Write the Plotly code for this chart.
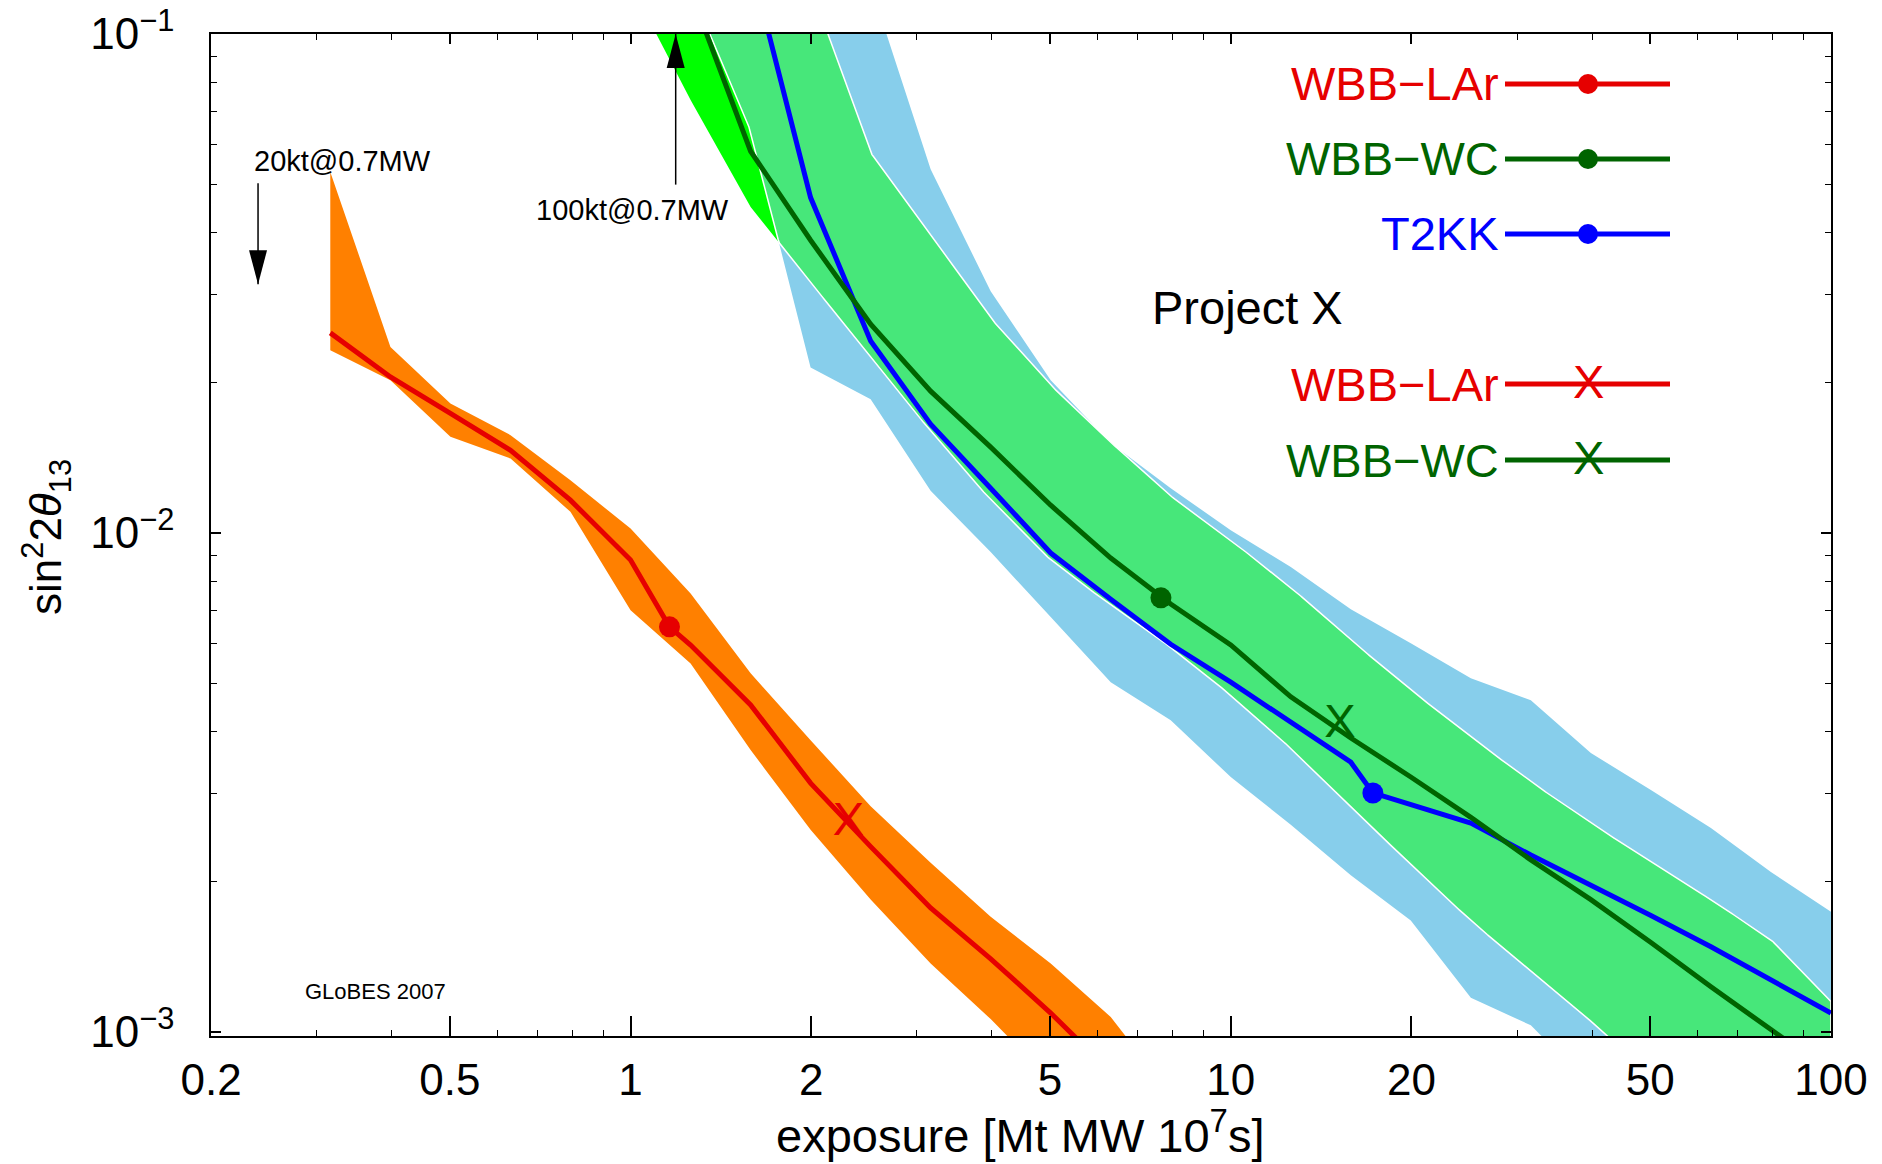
import numpy as np
import plotly.graph_objects as go

# ---------------- data ----------------
# WBB-LAr (red line + orange band)
LAR_X = [0.316, 0.398, 0.501, 0.631, 0.794, 1.0, 1.161, 1.259, 1.585, 1.995, 2.512, 3.162, 3.981, 5.012, 6.31]
LAR_Y = [0.02517, 0.02054, 0.01735, 0.01464, 0.01163, 0.00882, 0.00648, 0.00596, 0.00452, 0.00315,
         0.00235, 0.00177, 0.00140, 0.00109, 0.00083]
LAR_BAND_X = [0.316, 0.398, 0.501, 0.631, 0.794, 1.0, 1.259, 1.585, 1.995, 2.512, 3.162, 3.981, 5.012, 6.31, 7.943]
LAR_BAND_HI = [0.0529, 0.02359, 0.01817, 0.01570, 0.01275, 0.01020, 0.00756, 0.00523, 0.00384, 0.00283,
               0.00218, 0.00170, 0.00137, 0.00107, 0.00075]
LAR_BAND_LO = [0.02323, 0.02023, 0.01558, 0.01409, 0.01102, 0.00700, 0.00547, 0.00367, 0.00254, 0.00184,
               0.00137, 0.00106, 0.00080, 0.00062, 0.00048]

# T2KK (blue line + sky-blue band)
T2KK_X = [1.585, 1.995, 2.512, 3.162, 3.981, 5.012, 6.31, 7.943, 10.0, 12.59, 15.85, 17.25, 19.95, 25.12,
          31.62, 39.81, 50.12, 63.1, 79.43, 100.0]
T2KK_Y = [0.139, 0.0470, 0.02425, 0.01651, 0.01229, 0.00911, 0.00736, 0.00598, 0.00502, 0.00417, 0.00347,
          0.00301, 0.00285, 0.00262, 0.00226, 0.00197, 0.00171, 0.00148, 0.00127, 0.00109]
T2KK_BAND_X = [1.259, 1.585, 1.995, 2.512, 3.162, 3.981, 5.012, 6.31, 7.943, 10.0, 12.59, 15.85, 19.95,
               25.12, 31.62, 39.81, 50.12, 63.1, 79.43, 100.0]
T2KK_BAND_HI = [0.50, 0.35, 0.22, 0.125, 0.05356, 0.03050, 0.02023, 0.01513, 0.01229, 0.01012, 0.00854,
                0.00703, 0.00601, 0.00511, 0.00462, 0.00362, 0.00305, 0.00256, 0.00209, 0.00174]
T2KK_BAND_LO = [0.1235, 0.0639, 0.02146, 0.01853, 0.01214, 0.00915, 0.00678, 0.00502, 0.00421, 0.00324,
                0.00260, 0.00206, 0.00167, 0.00117, 0.00103, 0.00078, 0.00060, 0.00046, 0.00036, 0.00028]

# WBB-WC (dark-green line + green band)
WC_X = [1.259, 1.585, 1.995, 2.512, 3.162, 3.981, 5.012, 6.31, 7.943, 10.0, 12.59, 15.85, 19.95, 25.12,
        31.62, 39.81, 50.12, 63.1, 79.43, 100.0]
WC_Y = [0.1218, 0.0582, 0.0386, 0.02619, 0.01923, 0.01485, 0.01136, 0.00890, 0.00720, 0.00596, 0.00469,
        0.00388, 0.00324, 0.00269, 0.00221, 0.00184, 0.00151, 0.00123, 0.00101, 0.00083]
WC_BAND_X = [1.0, 1.259, 1.585, 1.995, 2.512, 3.162, 3.981, 5.012, 6.31, 7.943, 10.0, 12.59, 15.85, 19.95,
             25.12, 31.62, 39.81, 50.12, 63.1, 79.43, 100.0]
WC_BAND_HI = [0.9, 0.63, 0.37, 0.1246, 0.0578, 0.0397, 0.02694, 0.01977, 0.01520, 0.01185, 0.00967, 0.00778,
              0.00610, 0.00484, 0.00390, 0.00317, 0.00262, 0.00219, 0.00184, 0.00153, 0.00115]
WC_BAND_LO = [0.1258, 0.0737, 0.0450, 0.0318, 0.02249, 0.01599, 0.01163, 0.00882, 0.00716, 0.00590, 0.00473,
              0.00370, 0.00283, 0.00216, 0.00167, 0.00132, 0.00105, 0.00082, 0.00064, 0.00050, 0.00039]

# reference-setup markers (dots) and Project X markers (X)
DOT_NAMES = ["WBB-LAr", "WBB-WC", "T2KK"]
DOT_X = [1.161, 7.65, 17.25]
DOT_Y = [0.00648, 0.00741, 0.00301]
PX_NAMES = ["WBB-LAr", "WBB-WC"]
PX_X = [2.306, 15.2]
PX_Y = [0.00262, 0.00412]

# annotation arrows
ARROW_LABELS = ["20kt@0.7MW", "100kt@0.7MW"]
ARROW_X = [0.2395, 1.189]
ARROW_TAIL = [0.0502, 0.0499]
ARROW_TIP = [0.0315, 0.1]

# axes
X_TICKS = [0.2, 0.5, 1, 2, 5, 10, 20, 50, 100]
X_TICK_TEXT = ["0.2", "0.5", "1", "2", "5", "10", "20", "50", "100"]
X_MINOR = [0.3, 0.4, 0.6, 0.7, 0.8, 0.9, 3, 4, 6, 7, 8, 9, 30, 40, 60, 70, 80, 90]
Y_TICKS = [0.1, 0.01, 0.001]
Y_TICK_TEXT = ["10<sup>\u22121</sup>", "10<sup>\u22122</sup>", "10<sup>\u22123</sup>"]
Y_MINOR = [0.002, 0.003, 0.004, 0.005, 0.006, 0.007, 0.008, 0.009,
           0.02, 0.03, 0.04, 0.05, 0.06, 0.07, 0.08, 0.09]

# ---------------- styles ----------------
RED = "#e60000"
DKGREEN = "#006400"
BLUE = "#0000ff"
ORANGE = "#ff8000"
SKY = "#87ceeb"
BRIGHT = "#00ff00"
MIDGREEN = "#47e77a"
COLORS = {"WBB-LAr": RED, "WBB-WC": DKGREEN, "T2KK": BLUE}
FONT = "Liberation Sans, Arial, Helvetica, sans-serif"
FS = 44      # tick labels / titles
FSL = 47     # legend texts
LW = 5

# page coordinates of the plot area (the page body has an 8px margin)
BODY = 8
W, H = 1882 - BODY, 1164 - BODY
PL, PR, PT, PB = 211, 1831, 34, 1036


def pxx(xp):
    return (xp - PL) / (PR - PL)


def pxy(yp):
    return (PB - yp) / (PB - PT)


def band(x, hi, lo):
    x = list(x)
    return x + x[::-1], list(hi) + list(lo)[::-1]


fig = go.Figure()

# orange band + red line
bx, by = band(LAR_BAND_X, LAR_BAND_HI, LAR_BAND_LO)
fig.add_trace(go.Scatter(x=bx, y=by, fill="toself", fillcolor=ORANGE, mode="lines",
                         line=dict(width=0, color=ORANGE), hoverinfo="skip"))
fig.add_trace(go.Scatter(x=LAR_X, y=LAR_Y, mode="lines", line=dict(color=RED, width=LW)))

# WBB-WC band (bright green), T2KK band (sky blue)
bx, by = band(WC_BAND_X, WC_BAND_HI, WC_BAND_LO)
fig.add_trace(go.Scatter(x=bx, y=by, fill="toself", fillcolor=BRIGHT, mode="lines",
                         line=dict(width=0, color=BRIGHT), hoverinfo="skip"))
bx, by = band(T2KK_BAND_X, T2KK_BAND_HI, T2KK_BAND_LO)
fig.add_trace(go.Scatter(x=bx, y=by, fill="toself", fillcolor=SKY, mode="lines",
                         line=dict(width=0, color=SKY), hoverinfo="skip"))

# overlap of the two bands (computed from the band edges)
lx = np.linspace(np.log10(max(WC_BAND_X[0], T2KK_BAND_X[0])), np.log10(100.0), 900)


def interp(X, Y):
    return np.interp(lx, np.log10(X), np.log10(Y))


hi = np.minimum(interp(T2KK_BAND_X, T2KK_BAND_HI), interp(WC_BAND_X, WC_BAND_HI))
lo = np.maximum(interp(T2KK_BAND_X, T2KK_BAND_LO), interp(WC_BAND_X, WC_BAND_LO))
ok = hi > lo
ox = 10 ** lx[ok]
bx, by = band(ox, 10 ** hi[ok], 10 ** lo[ok])
fig.add_trace(go.Scatter(x=bx, y=by, fill="toself", fillcolor=MIDGREEN, mode="lines",
                         line=dict(width=1.5, color="white"), hoverinfo="skip"))

# lines
fig.add_trace(go.Scatter(x=T2KK_X, y=T2KK_Y, mode="lines", line=dict(color=BLUE, width=LW)))
fig.add_trace(go.Scatter(x=WC_X, y=WC_Y, mode="lines", line=dict(color=DKGREEN, width=LW)))

# dots
for n, x, y in zip(DOT_NAMES, DOT_X, DOT_Y):
    fig.add_trace(go.Scatter(x=[x], y=[y], mode="markers",
                             marker=dict(size=21, color=COLORS[n], line=dict(width=0))))
# X markers (on the overlaying top axis)
for n, x, y in zip(PX_NAMES, PX_X, PX_Y):
    fig.add_trace(go.Scatter(x=[x], y=[y], mode="text", text=["X"], textposition="middle center",
                             textfont=dict(size=FSL, color=COLORS[n], family=FONT),
                             xaxis="x2", yaxis="y"))

shapes = []
annotations = []

# arrows
for ax_, tail, tip in zip(ARROW_X, ARROW_TAIL, ARROW_TIP):
    s = 1 if tip < tail else -1
    shapes.append(dict(type="line", xref="x", yref="y", x0=ax_, x1=ax_, y0=tail, y1=tip,
                       line=dict(color="black", width=1.5), layer="above"))
    shapes.append(dict(type="path", xref="x", yref="y", xsizemode="pixel", ysizemode="pixel",
                       xanchor=ax_, yanchor=tip,
                       path=f"M0,0 L-9,{s*34} L9,{s*34} Z",
                       fillcolor="black", line=dict(width=0), layer="above"))

annotations.append(dict(text=ARROW_LABELS[0], xref="paper", yref="paper", x=pxx(252), y=pxy(161),
                        xanchor="left", yanchor="middle", showarrow=False,
                        font=dict(size=29, family=FONT, color="black")))
annotations.append(dict(text=ARROW_LABELS[1], xref="paper", yref="paper", x=pxx(534), y=pxy(210),
                        xanchor="left", yanchor="middle", showarrow=False,
                        font=dict(size=29, family=FONT, color="black")))
annotations.append(dict(text="GLoBES 2007", xref="paper", yref="paper", x=pxx(303), y=pxy(991),
                        xanchor="left", yanchor="middle", showarrow=False,
                        font=dict(size=22, family=FONT, color="black")))

# legend (drawn by hand: label left of sample)
LEG_ROWS = [("WBB\u2212LAr", "WBB-LAr", "dot", 84), ("WBB\u2212WC", "WBB-WC", "dot", 159),
            ("T2KK", "T2KK", "dot", 234), ("WBB\u2212LAr", "WBB-LAr", "X", 384),
            ("WBB\u2212WC", "WBB-WC", "X", 460)]
for label, key, sym, ry in LEG_ROWS:
    c = COLORS[key]
    annotations.append(dict(text=label, xref="paper", yref="paper", x=pxx(1501), y=pxy(ry),
                            xanchor="right", yanchor="middle", showarrow=False,
                            font=dict(size=FSL, family=FONT, color=c)))
    shapes.append(dict(type="line", xref="paper", yref="paper", x0=pxx(1505), x1=pxx(1670),
                       y0=pxy(ry), y1=pxy(ry), line=dict(color=c, width=LW), layer="above"))
    if sym == "dot":
        shapes.append(dict(type="circle", xref="paper", yref="paper", xsizemode="pixel",
                           ysizemode="pixel", xanchor=pxx(1588), yanchor=pxy(ry),
                           x0=-10, x1=10, y0=-10, y1=10, fillcolor=c, line=dict(width=0),
                           layer="above"))
    else:
        annotations.append(dict(text="X", xref="paper", yref="paper", x=pxx(1588), y=pxy(ry - 3),
                                xanchor="center", yanchor="middle", showarrow=False,
                                font=dict(size=FSL, family=FONT, color=c)))
annotations.append(dict(text="Project X", xref="paper", yref="paper", x=pxx(1150), y=pxy(307),
                        xanchor="left", yanchor="middle", showarrow=False,
                        font=dict(size=FSL, family=FONT, color="black")))

# axis titles
annotations.append(dict(text="exposure [Mt MW 10<sup>7</sup>s]", xref="paper", yref="paper",
                        x=pxx(1020), y=pxy(1132), xanchor="center", yanchor="middle",
                        showarrow=False, font=dict(size=FSL, family=FONT, color="black")))
annotations.append(dict(text="sin<sup>2</sup>2<i>\u03b8</i><sub>13</sub>", xref="paper", yref="paper",
                        x=pxx(46), y=pxy(537), xanchor="center", yanchor="middle", textangle=-90,
                        showarrow=False, font=dict(size=FS, family=FONT, color="black")))

xr = [np.log10(0.2) - 1e-4, 2 + 1e-4]
yr = [np.log10(0.001) - 0.0086, -1 + 1e-5]

common_x = dict(type="log", range=xr, showgrid=False, zeroline=False, showline=True, automargin=False,
                linecolor="black", linewidth=2, ticks="inside", tickcolor="black", tickwidth=1.5,
                ticklabeloverflow="allow")

fig.update_layout(
    template="none",
    width=W, height=H, autosize=False,
    margin=dict(l=PL - BODY, r=W - (PR - BODY), t=PT - BODY, b=H - (PB - BODY), pad=0),
    paper_bgcolor="white", plot_bgcolor="white",
    font=dict(family=FONT, color="black", size=FS),
    showlegend=False,
    xaxis=dict(**common_x, tickvals=X_TICKS, ticktext=X_TICK_TEXT, ticklen=20,
               minor=dict(tickvals=X_MINOR, ticks="inside", ticklen=6, tickwidth=1.2, tickcolor="black"),
               tickfont=dict(size=FS, family=FONT, color="black"), ticklabelstandoff=4),
    xaxis2=dict(**common_x, overlaying="x", side="top", anchor="y", matches="x",
                tickvals=X_TICKS, ticklen=10, showticklabels=False,
                minor=dict(tickvals=X_MINOR, ticks="inside", ticklen=6, tickwidth=1.2, tickcolor="black")),
    yaxis=dict(type="log", range=yr, showgrid=False, zeroline=False, showline=True, mirror="ticks",
               automargin=False, ticklabeloverflow="allow",
               linecolor="black", linewidth=1.5, ticks="inside", tickcolor="black", tickwidth=1.5,
               ticklen=10, tickvals=Y_TICKS, ticktext=Y_TICK_TEXT,
               minor=dict(tickvals=Y_MINOR, ticks="inside", ticklen=6, tickwidth=1.2, tickcolor="black"),
               tickfont=dict(size=FS, family=FONT, color="black"), ticklabelstandoff=26),
    shapes=shapes,
    annotations=annotations,
)

fig.write_html("out.html")
